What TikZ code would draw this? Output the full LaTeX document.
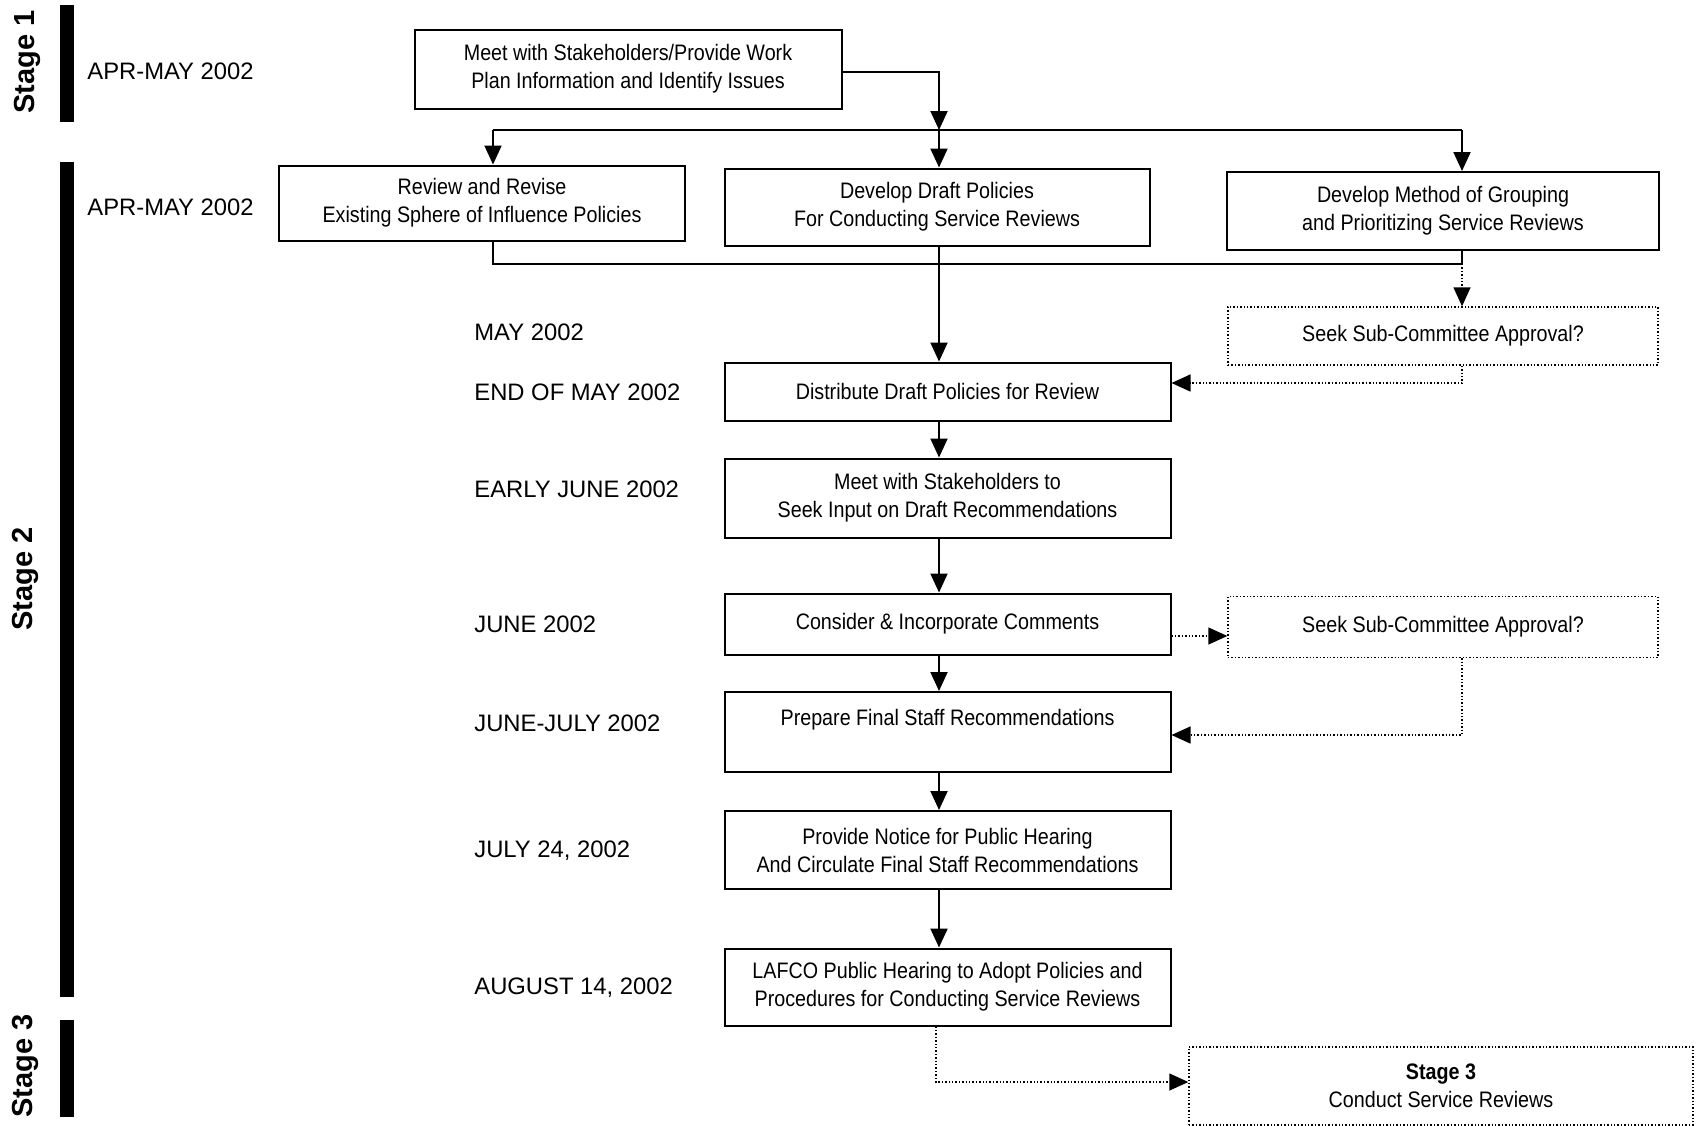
\documentclass[tikz,border=0pt]{standalone}
\usepackage{fontspec}
\setmainfont{Liberation Sans}
\newfontfamily\nar[FakeStretch=0.88]{Liberation Sans}
\usetikzlibrary{arrows.meta}
\begin{document}
\begin{tikzpicture}[x=0.5pt,y=-0.5pt,
  box/.style={draw, line width=1pt, inner sep=0pt, align=center, font=\nar\fontsize{11.2}{14}\selectfont},
  dbox/.style={draw, densely dotted, line width=0.7pt, inner sep=0pt, align=center, font=\nar\fontsize{11.2}{14}\selectfont},
  arr/.style={-{Triangle[length=9.5pt,width=8.5pt]}, line width=1pt},
  darr/.style={-{Triangle[length=9.5pt,width=8.5pt]}, densely dotted, line width=0.7pt},
  sline/.style={line width=1pt},
  datelbl/.style={anchor=west, inner sep=0pt, font=\fontsize{11.9}{14}\selectfont},
  stagelbl/.style={rotate=90, inner sep=0pt, font=\bfseries\fontsize{14.5}{16}\selectfont},
  bar/.style={fill=black}]
\useasboundingbox (0,0) rectangle (1696,1125);

% stage bars and labels
\fill[bar] (60,5) rectangle (74,122);
\fill[bar] (60,162) rectangle (74,997);
\fill[bar] (60,1020) rectangle (74,1117);
\node[stagelbl] (st1) at (27,62) {Stage 1};
\node[stagelbl] (st2) at (25,579) {Stage 2};
\node[stagelbl] (st3) at (25,1066) {Stage 3};

% date labels
\node[datelbl] (d0) at (87,71) {APR-MAY 2002};
\node[datelbl] (d1) at (87,207) {APR-MAY 2002};
\node[datelbl] (d2) at (474,332) {MAY 2002};
\node[datelbl] (d3) at (474,392) {END OF MAY 2002};
\node[datelbl] (d4) at (474,489) {EARLY JUNE 2002};
\node[datelbl] (d5) at (474,624) {JUNE 2002};
\node[datelbl] (d6) at (474,723) {JUNE-JULY 2002};
\node[datelbl] (d7) at (474,851) {JULY 24, 2002};
\node[datelbl] (d8) at (474,988) {AUGUST 14, 2002};

% boxes
\node[box, minimum width=213.5pt, minimum height=39.5pt] (m) at (628,69) {\raisebox{-1.5pt}{\parbox{200pt}{\centering Meet with Stakeholders/Provide Work\\Plan Information and Identify Issues}}};
\node[box, minimum width=203pt, minimum height=37.5pt] (r) at (482,203) {Review and Revise\\Existing Sphere of Influence Policies};
\node[box, minimum width=212.5pt, minimum height=38.5pt] (d) at (937,207) {Develop Draft Policies\\For Conducting Service Reviews};
\node[box, minimum width=216pt, minimum height=39pt] (g) at (1443,211) {Develop Method of Grouping\\and Prioritizing Service Reviews};
\node[dbox, minimum width=215pt, minimum height=29pt] (s1) at (1443,336) {Seek Sub-Committee Approval?};
\node[box, minimum width=223pt, minimum height=29pt] (b) at (947.5,391.5) {Distribute Draft Policies for Review};
\node[box, minimum width=223pt, minimum height=39.5pt] (e) at (947.5,498) {Meet with Stakeholders to\\Seek Input on Draft Recommendations};
\node[box, minimum width=223pt, minimum height=30.5pt] (c) at (947.5,624) {Consider \& Incorporate Comments};
\node[dbox, minimum width=215pt, minimum height=30.5pt] (s2) at (1443,627) {Seek Sub-Committee Approval?};
\node[box, minimum width=223pt, minimum height=40pt] (p) at (947.5,732) {};
\node[inner sep=0pt, font=\nar\fontsize{11.2}{14}\selectfont] (pt) at (947.5,720) {Prepare Final Staff Recommendations};
\node[box, minimum width=223pt, minimum height=39pt] (n) at (947.5,850) {Provide Notice for Public Hearing\\And Circulate Final Staff Recommendations};
\node[box, minimum width=223pt, minimum height=38.5pt] (l) at (947.5,987) {LAFCO Public Hearing to Adopt Policies and\\Procedures for Conducting Service Reviews};
\node[dbox, minimum width=252pt, minimum height=39pt] (t) at (1441,1086) {\textbf{Stage 3}\\Conduct Service Reviews};

% junction coordinates
\coordinate (vx) at (939,0);
\coordinate (jt) at (939,130);
\coordinate (jl) at (493,130);
\coordinate (jr) at (1462,130);
\coordinate (bl) at (493,264);
\coordinate (br) at (1462,264);
\coordinate (k0) at (841,72);
\coordinate (k1) at (1462,383);
\coordinate (k2) at (1462,735);
\coordinate (k3) at (936,1082);
\coordinate (k4) at (1170,636);

% connectors
\draw[arr] (m.east |- k0) -| (jt);
\draw[sline] (jl) -- (jr);
\draw[arr] (jl) -- (r.north -| jl);
\draw[arr] (jt) -- (d.north -| jt);
\draw[arr] (jr) -- (g.north -| jr);
\draw[sline] (r.south -| bl) -- (bl) -- (br);
\draw[sline] (g.south -| br) -- (br);
\draw[darr] (br) -- (s1.north -| br);
\draw[arr] (d.south -| vx) -- (b.north -| vx);
\draw[darr] (s1.south -| k1) -- (k1) -- (b.east |- k1);
\draw[arr] (b.south -| vx) -- (e.north -| vx);
\draw[arr] (e.south -| vx) -- (c.north -| vx);
\draw[darr] (c.east |- k4) -- (s2.west |- k4);
\draw[arr] (c.south -| vx) -- (p.north -| vx);
\draw[darr] (s2.south -| k2) -- (k2) -- (p.east |- k2);
\draw[arr] (p.south -| vx) -- (n.north -| vx);
\draw[arr] (n.south -| vx) -- (l.north -| vx);
\draw[darr] (l.south -| k3) -- (k3) -- (t.west |- k3);
\end{tikzpicture}
\end{document}
